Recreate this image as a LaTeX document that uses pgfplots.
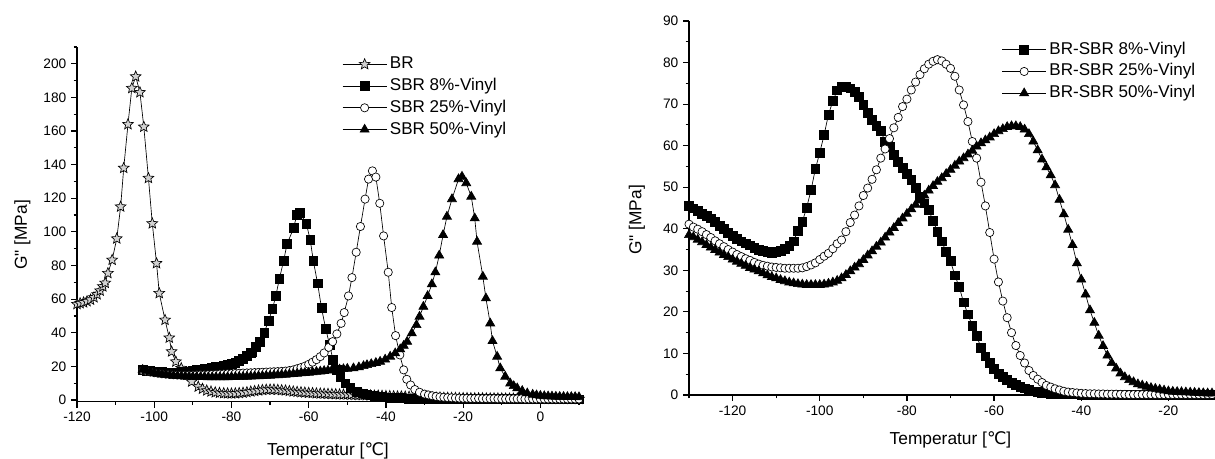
\documentclass[border=0pt]{standalone}
\usepackage{fontspec}
\setmainfont{Liberation Sans}[Ligatures=TeXOff]
\newfontfamily\dejavu{DejaVu Sans}
\usepackage{pgfplots}
\pgfplotsset{compat=1.18}

\pgfdeclareplotmark{ostar}{%
  \pgfpathmoveto{\pgfqpointpolar{90}{1.0\pgfplotmarksize}}%
  \pgfpathlineto{\pgfqpointpolar{126}{0.45\pgfplotmarksize}}%
  \pgfpathlineto{\pgfqpointpolar{162}{1.0\pgfplotmarksize}}%
  \pgfpathlineto{\pgfqpointpolar{198}{0.45\pgfplotmarksize}}%
  \pgfpathlineto{\pgfqpointpolar{234}{1.0\pgfplotmarksize}}%
  \pgfpathlineto{\pgfqpointpolar{270}{0.45\pgfplotmarksize}}%
  \pgfpathlineto{\pgfqpointpolar{306}{1.0\pgfplotmarksize}}%
  \pgfpathlineto{\pgfqpointpolar{342}{0.45\pgfplotmarksize}}%
  \pgfpathlineto{\pgfqpointpolar{18}{1.0\pgfplotmarksize}}%
  \pgfpathlineto{\pgfqpointpolar{54}{0.45\pgfplotmarksize}}%
  \pgfpathclose
  \pgfusepathqfillstroke
}

\pgfplotsset{
  myaxis/.style={
    scale only axis,
    axis x line*=bottom, axis y line*=left,
    axis line style={-, line width=0.9pt},
    tick align=outside,
    major tick length=4.5pt, minor tick length=2.5pt,
    tick style={line width=0.9pt, black},
    tick label style={font=\fontsize{10.3}{12}\selectfont},
    /pgf/number format/assume math mode=true,
    label style={font=\fontsize{13}{15}\selectfont},
    legend style={draw=none, fill=none, font=\fontsize{12.8}{15}\selectfont,
      nodes={inner sep=2.2pt, text height=9.3pt, text depth=2.6pt}, row sep=0pt},
    legend cell align=left,
    legend image code/.code={\draw[mark repeat=2,mark phase=2] plot coordinates {(0pt,0pt) (16.5pt,0pt) (33pt,0pt)};},
    clip=false,
    every axis plot/.append style={black, line width=0.5pt},
  },
  sstar/.style={mark=ostar, mark size=4.2pt, mark options={fill=gray!35, line width=0.5pt}},
  ssq/.style={mark=square*, mark size=3.3pt, mark options={fill=black}},
  scirc/.style={mark=*, mark size=3.1pt, mark options={fill=white, line width=0.5pt}},
  stri/.style={mark=triangle*, mark size=3.9pt, mark options={fill=black}},
}

\begin{document}
\begin{tikzpicture}
\useasboundingbox (0,0) rectangle (911.25pt,344.25pt);

% ---------------- left panel ----------------
\begin{axis}[myaxis,
  at={(57.75pt,43pt)}, anchor=south west,
  width=376.5pt, height=266pt,
  xmin=-120, xmax=10, ymin=-1, ymax=210,
  xtick={-120,-100,...,0}, minor xtick={-110,-90,...,10},
  ytick={0,20,...,200}, minor ytick={10,30,...,210},
  xlabel={Temperatur [{\dejavu ℃}]},
  xlabel style={at={([yshift=-37pt]axis description cs:0.5,0)}, anchor=center},
  ylabel={G" [MPa]},
  ylabel style={at={([xshift=-41pt]axis description cs:0,0.47)}, anchor=center},
  legend style={at={(0.52,0.99)}, anchor=north west},
]
\addplot[sstar] coordinates {
(-120,57.0)(-119.2,57.5)(-118.3,58.0)(-117.4,58.7)(-116.5,59.6)(-115.6,61.0)(-114.8,62.8)(-114.0,65.0)(-113.3,67.5)(-112.7,69.6)(-112.0,75.4)(-110.9,83.3)(-109.7,96.0)(-108.7,115.0)(-107.9,138.0)(-106.8,164.0)(-105.8,185.5)(-104.8,192.4)(-103.7,183.0)(-102.7,162.5)(-101.5,132.0)(-100.5,105.0)(-99.4,81.3)(-98.7,63.5)(-97.2,47.6)(-96.1,37.0)(-95.5,28.8)(-94.4,22.8)(-93.0,18.9)(-91.6,14.9)(-90.3,10.9)(-88.6,7.9)(-87.5,6.6)(-86.4,5.6)(-85.3,5.0)(-84.2,4.5)(-83.1,4.2)(-82,4.0)(-81,3.9)(-80,3.8)(-79,3.9)(-78,4.1)(-77,4.3)(-76,4.6)(-75,5.0)(-74,5.3)(-73,5.6)(-72,5.9)(-71,6.1)(-70,6.2)(-69,6.2)(-68,6.0)(-67,5.8)(-66,5.6)(-65,5.3)(-64,5.0)(-63,4.8)(-62,4.6)(-61,4.4)(-60,4.2)(-59,4.1)(-58,3.9)(-57,3.8)(-56,3.7)(-55,3.6)(-54,3.5)(-53,3.4)(-52,3.3)(-51,3.2)(-50,3.2)(-49,3.1)(-48,3.0)(-47,2.9)(-46,2.9)(-45,2.8)(-44,2.7)(-43,2.6)(-42,2.6)(-41,2.5)(-40,2.4)(-39,2.3)(-38,2.2)(-37,2.1)(-36,2.1)(-35,2.0)(-34,1.9)(-33,1.8)(-32,1.8)(-31,1.7)(-30,1.6)(-29,1.6)(-28,1.5)(-27,1.4)(-26,1.4)(-25,1.3)(-24,1.3)(-23,1.2)(-22,1.2)(-21,1.1)(-20,1.1)(-19,1.1)(-18,1.0)(-17,1.0)(-16,1.0)(-15,1.0)(-14,0.9)(-13,0.9)(-12,0.9)(-11,0.9)(-10,0.9)(-9,0.8)(-8,0.8)(-7,0.8)(-6,0.8)(-5,0.8)(-4,0.7)(-3,0.7)(-2,0.7)(-1,0.7)(0,0.7)(1,0.7)(2,0.6)(3,0.6)(4,0.6)(5,0.6)(6,0.6)(7,0.6)(8,0.6)(9,0.6)(10,0.6)
};
\addlegendentry{BR}
\addplot[ssq] coordinates {
(-103,17.8)(-102,17.5)(-101,17.2)(-100,17.0)(-99,16.8)(-98,16.6)(-97,16.5)(-96,16.4)(-95,16.4)(-94,16.5)(-93,16.6)(-92,16.8)(-91,17.0)(-90,17.4)(-89,17.8)(-88,18.2)(-87,18.6)(-86,18.8)(-85,19.1)(-84,19.5)(-83,20.0)(-82,20.4)(-81,21.0)(-80,21.6)(-79,22.3)(-78,23.4)(-77,24.7)(-76,26.2)(-75,27.9)(-74.6,28.4)(-73.6,31.7)(-72.6,34.7)(-71.5,40.1)(-70.4,47.2)(-69.4,54.0)(-68.5,62.1)(-67.6,72.0)(-66.5,82.7)(-65.6,92.9)(-63.9,102.2)(-63.1,110.1)(-62.2,111.1)(-60.6,104.8)(-59.6,95.2)(-58.8,82.7)(-57.7,69.4)(-56.7,55.0)(-55.6,42.4)(-54.6,33.0)(-53.7,23.8)(-52.7,18.0)(-51.8,13.9)(-50.5,9.9)(-49.2,7.0)(-47.5,5.0)(-46,3.9)(-45,3.3)(-44,2.8)(-43,2.4)(-42,2.1)(-41,1.8)(-40,1.6)(-39,1.4)(-38,1.3)(-37,1.2)(-36,1.1)(-35,1.0)(-34,0.9)(-33,0.9)(-32,0.8)(-31,0.8)(-30,0.7)(-29,0.7)(-28,0.7)(-27,0.7)(-26,0.6)(-25,0.6)(-24,0.6)(-23,0.6)(-22,0.6)(-21,0.5)(-20,0.5)(-19,0.5)(-18,0.5)(-17,0.5)(-16,0.5)(-15,0.5)(-14,0.5)(-13,0.5)(-12,0.5)(-11,0.5)(-10,0.5)(-9,0.5)(-8,0.5)(-7,0.5)(-6,0.5)(-5,0.5)(-4,0.5)(-3,0.5)(-2,0.5)(-1,0.5)(0,0.5)(1,0.4)(2,0.4)(3,0.4)(4,0.4)(5,0.4)(6,0.4)(7,0.4)(8,0.4)(9,0.4)(10,0.4)
};
\addlegendentry{SBR 8\%-Vinyl}
\addplot[scirc] coordinates {
(-103,17.5)(-102,17.0)(-101,16.6)(-100,16.2)(-99,15.9)(-98,15.6)(-97,15.4)(-96,15.2)(-95,15.0)(-94,14.9)(-93,14.8)(-92,14.8)(-91,14.8)(-90,14.8)(-89,14.9)(-88,15.0)(-87,15.0)(-86,15.1)(-85,15.2)(-84,15.3)(-83,15.4)(-82,15.5)(-81,15.6)(-80,15.7)(-79,15.8)(-78,15.9)(-77,16.0)(-76,16.1)(-75,16.2)(-74,16.3)(-73,16.4)(-72,16.5)(-71,16.6)(-70,16.7)(-69,16.8)(-68,16.9)(-67,17.0)(-66,17.2)(-65,17.5)(-64,17.9)(-63,18.6)(-62,19.3)(-61,20.1)(-60,21.2)(-59,22.5)(-58,24.0)(-57,25.8)(-56,28.0)(-54.8,31.3)(-53.8,34.7)(-52.7,39.3)(-51.6,45.6)(-50.8,52.0)(-49.7,61.9)(-48.8,72.8)(-47.7,87.9)(-46.6,103.2)(-45.4,119.5)(-44.5,131.4)(-43.5,136.3)(-42.6,132.6)(-41.6,117.0)(-40.6,97.6)(-39.4,76.0)(-38.5,55.0)(-37.5,38.3)(-36.4,26.8)(-35.4,17.9)(-34.6,12.3)(-33.6,8.9)(-32.5,6.2)(-31.3,4.6)(-30,3.5)(-29,3.0)(-28,2.5)(-27,2.1)(-26,1.8)(-25,1.6)(-24,1.4)(-23,1.3)(-22,1.2)(-21,1.1)(-20,1.0)(-19,1.0)(-18,0.9)(-17,0.9)(-16,0.9)(-15,0.8)(-14,0.8)(-13,0.8)(-12,0.8)(-11,0.7)(-10,0.7)(-9,0.7)(-8,0.7)(-7,0.7)(-6,0.7)(-5,0.7)(-4,0.6)(-3,0.6)(-2,0.6)(-1,0.6)(0,0.6)(1,0.6)(2,0.6)(3,0.6)(4,0.6)(5,0.6)(6,0.6)(7,0.6)(8,0.6)(9,0.6)(10,0.6)
};
\addlegendentry{SBR 25\%-Vinyl}
\addplot[stri] coordinates {
(-103,18.0)(-102,17.2)(-101,16.6)(-100,16.1)(-99,15.7)(-98,15.3)(-97,15.0)(-96,14.7)(-95,14.5)(-94,14.3)(-93,14.1)(-92,14.0)(-91,13.9)(-90,13.8)(-89,13.8)(-88,13.7)(-87,13.7)(-86,13.6)(-85,13.6)(-84,13.6)(-83,13.6)(-82,13.6)(-81,13.6)(-80,13.7)(-79,13.7)(-78,13.8)(-77,13.8)(-76,13.9)(-75,14.0)(-74,14.1)(-73,14.2)(-72,14.3)(-71,14.4)(-70,14.5)(-69,14.7)(-68,14.8)(-67,15.0)(-66,15.1)(-65,15.3)(-64,15.5)(-63,15.7)(-62,15.9)(-61,16.1)(-60,16.3)(-59,16.5)(-58,16.8)(-57,17.0)(-56,17.3)(-55,17.5)(-54,17.8)(-53,18.0)(-52,18.2)(-51,18.4)(-50,18.6)(-48.4,18.9)(-47,19.5)(-45.8,20.2)(-44.9,20.8)(-43.8,21.4)(-42.6,22.1)(-41.5,22.8)(-40.2,24.1)(-38.9,25.8)(-37.6,27.8)(-36.3,30.2)(-35.4,32.3)(-34.5,34.7)(-33.3,39.7)(-32.1,44.6)(-31.3,49.6)(-30.3,55.5)(-29.2,61.9)(-28.1,68.9)(-27.2,76.0)(-26.2,86.0)(-25.2,98.2)(-24.2,109.1)(-22.9,119.5)(-21.2,131.4)(-20.3,132.9)(-19.2,129.0)(-17.9,121.0)(-17.0,108.1)(-16.4,94.2)(-14.9,73.4)(-14.1,60.5)(-13.0,45.6)(-12.4,35.1)(-11.2,25.8)(-10.4,18.9)(-9.1,13.9)(-7.8,9.9)(-6.9,8.3)(-6.0,7.0)(-4.7,5.4)(-3.4,4.0)(-2,3.2)(-1,2.8)(0,2.5)(1,2.3)(2,2.2)(3,2.1)(4,2.0)(5,1.9)(6,1.9)(7,1.8)(8,1.8)(9,1.8)(10,1.7)
};
\addlegendentry{SBR 50\%-Vinyl}
\end{axis}

% ---------------- right panel ----------------
\begin{axis}[myaxis,
  at={(516.75pt,48pt)}, anchor=south west,
  width=392.25pt, height=280.5pt,
  xmin=-130, xmax=-10, ymin=0, ymax=90,
  xtick={-120,-100,...,-20}, minor xtick={-130,-110,...,-10},
  ytick={0,10,...,90}, minor ytick={5,15,...,85},
  xlabel={Temperatur [{\dejavu ℃}]},
  xlabel style={at={([yshift=-34pt]axis description cs:0.5,0)}, anchor=center},
  ylabel={G" [MPa]},
  ylabel style={at={([xshift=-39pt]axis description cs:0,0.468)}, anchor=center},
  legend style={at={(0.59,0.96)}, anchor=north west},
]
\addplot[ssq] coordinates {
(-130,45.5)(-129,44.9)(-128,44.3)(-127,43.6)(-126,43.2)(-125,42.5)(-124,41.7)(-123,40.8)(-122,39.9)(-121,39.1)(-120,38.3)(-119,37.6)(-118,37.0)(-117,36.5)(-116,36.0)(-115,35.5)(-114,35.0)(-113,34.6)(-112,34.4)(-111,34.3)(-110,34.4)(-109,34.7)(-108,35.1)(-107,35.8)(-106,37.0)(-105,39.6)(-104,41.7)(-103,45.1)(-102,49.3)(-101,54.4)(-100,58.3)(-99,62.6)(-98,67.5)(-97,70.7)(-96,73.3)(-95,74.2)(-94,74.3)(-93,73.8)(-92,72.9)(-91,71.7)(-90,69.8)(-89,67.9)(-88,66.2)(-87,64.8)(-86,63.5)(-85,61.0)(-84,59.7)(-83,57.8)(-82,56.2)(-81,54.6)(-80,53.2)(-79,51.7)(-78,49.8)(-77,47.7)(-76,46.1)(-75,44.5)(-74,41.9)(-73,39.3)(-72,37.0)(-71,34.4)(-70,32.2)(-69,28.8)(-68,26.0)(-67,22.3)(-66,19.4)(-65,16.7)(-64,14.3)(-63,11.3)(-62,9.3)(-61,7.7)(-60,6.3)(-59,5.1)(-58,4.3)(-57,3.6)(-56,2.9)(-55,2.4)(-54,1.9)(-53,1.6)(-52,1.3)(-51,0.9)(-50,0.7)(-49,0.5)(-48,0.4)(-47,0.3)(-46,0.25)(-45,0.2)(-44,0.2)(-43,0.15)(-42,0.15)(-41,0.15)(-40,0.1)(-39,0.1)(-38,0.1)(-37,0.1)(-36,0.1)(-35,0.1)(-34,0.1)(-33,0.1)(-32,0.1)(-31,0.1)(-30,0.1)(-29,0.1)(-28,0.1)(-27,0.1)(-26,0.1)(-25,0.1)(-24,0.1)(-23,0.1)(-22,0.1)(-21,0.1)(-20,0.1)(-19,0.1)(-18,0.1)(-17,0.1)(-16,0.1)(-15,0.1)(-14,0.1)(-13,0.1)(-12,0.1)(-11,0.1)(-10,0.1)
};
\addlegendentry{BR-SBR 8\%-Vinyl}
\addplot[scirc] coordinates {
(-130,41.1)(-129,40.4)(-128,39.9)(-127,39.3)(-126,38.6)(-125,37.9)(-124,37.1)(-123,36.4)(-122,35.7)(-121,35.0)(-120,34.4)(-119,33.8)(-118,33.3)(-117,32.8)(-116,32.4)(-115,31.9)(-114,31.5)(-113,31.2)(-112,31.0)(-111,30.8)(-110,30.7)(-109,30.6)(-108,30.5)(-107,30.5)(-106,30.5)(-105,30.5)(-104,30.6)(-103,30.9)(-102,31.3)(-101,31.8)(-100,32.6)(-99,33.4)(-98,34.1)(-97,35.2)(-96,36.4)(-95,37.3)(-94,39.3)(-93,41.5)(-92,43.3)(-91,45.5)(-90,48.0)(-89,49.8)(-88,51.9)(-87,54.2)(-86,57.0)(-85,59.2)(-84,61.7)(-83,64.3)(-82,66.8)(-81,69.4)(-80,71.2)(-79,73.4)(-78,75.3)(-77,77.1)(-76,78.5)(-75,79.6)(-74,80.3)(-73,80.7)(-72,80.4)(-71,79.6)(-70,78.6)(-69,76.7)(-68,73.4)(-67,69.8)(-66,65.8)(-65,61.0)(-64,57.0)(-63,51.2)(-62,45.5)(-61,39.1)(-60,32.7)(-59,27.2)(-58,22.6)(-57,18.6)(-56,15.0)(-55,11.9)(-54,9.5)(-53,7.7)(-52,5.9)(-51,4.7)(-50,3.8)(-49,3.0)(-48,2.3)(-47,1.9)(-46,1.5)(-45,1.2)(-44,0.9)(-43,0.7)(-42,0.6)(-41,0.5)(-40,0.4)(-39,0.35)(-38,0.3)(-37,0.3)(-36,0.25)(-35,0.25)(-34,0.2)(-33,0.2)(-32,0.2)(-31,0.15)(-30,0.15)(-29,0.1)(-28,0.1)(-27,0.1)(-26,0.1)(-25,0.1)(-24,0.1)(-23,0.1)(-22,0.1)(-21,0.1)(-20,0.1)(-19,0.1)(-18,0.1)(-17,0.1)(-16,0.1)(-15,0.1)(-14,0.1)(-13,0.1)(-12,0.1)(-11,0.1)(-10,0.1)
};
\addlegendentry{BR-SBR 25\%-Vinyl}
\addplot[stri] coordinates {
(-130,38.5)(-129,38.0)(-128,37.4)(-127,36.8)(-126,36.1)(-125,35.5)(-124,34.9)(-123,34.3)(-122,33.7)(-121,33.2)(-120,32.6)(-119,32.1)(-118,31.6)(-117,31.1)(-116,30.6)(-115,30.2)(-114,29.8)(-113,29.3)(-112,28.8)(-111,28.4)(-110,28.1)(-109,27.7)(-108,27.4)(-107,27.1)(-106,26.9)(-105,26.7)(-104,26.6)(-103,26.5)(-102,26.5)(-101,26.5)(-100,26.5)(-99,26.6)(-98,26.8)(-97,27.1)(-96,27.5)(-95,28.1)(-94,28.9)(-93,29.8)(-92,30.7)(-91,31.5)(-90,32.5)(-89,33.6)(-88,34.6)(-87,35.7)(-86,36.7)(-85,37.9)(-84,39.1)(-83,40.2)(-82,41.4)(-81,42.5)(-80,43.6)(-79,44.7)(-78,45.8)(-77,46.8)(-76,48.0)(-75,49.2)(-74,50.3)(-73,51.3)(-72,52.2)(-71,53.2)(-70,54.2)(-69,55.2)(-68,56.2)(-67,57.0)(-66,57.9)(-65,58.8)(-64,59.8)(-63,60.6)(-62,61.3)(-61,62.0)(-60,62.8)(-59,63.5)(-58,64.0)(-57,64.5)(-56,64.7)(-55,64.7)(-54,64.5)(-53,63.9)(-52,62.8)(-51,61.0)(-50,58.9)(-49,56.7)(-48,54.8)(-47,52.9)(-46,50.5)(-45,47.0)(-44,43.5)(-43,39.8)(-42,36.1)(-41,31.7)(-40,27.8)(-39,24.2)(-38,20.4)(-37,17.4)(-36,14.3)(-35,11.8)(-34,9.5)(-33,7.7)(-32,6.4)(-31,5.2)(-30,4.3)(-29,3.6)(-28,3.1)(-27,2.6)(-26,2.3)(-25,2.0)(-24,1.7)(-23,1.5)(-22,1.3)(-21,1.1)(-20,0.9)(-19,0.8)(-18,0.75)(-17,0.7)(-16,0.65)(-15,0.6)(-14,0.55)(-13,0.5)(-12,0.45)(-11,0.4)(-10,0.4)
};
\addlegendentry{BR-SBR 50\%-Vinyl}
\end{axis}
\end{tikzpicture}
\end{document}
